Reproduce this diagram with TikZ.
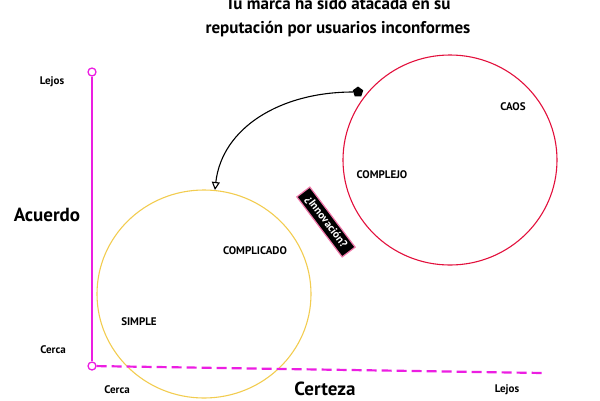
\documentclass[tikz,border=0pt]{standalone}
\usepackage{fontspec}
\setmainfont{PT Sans}
\usetikzlibrary{arrows.meta,shapes.geometric}
\definecolor{axismag}{RGB}{236,30,226}
\definecolor{caosred}{RGB}{226,16,60}
\definecolor{simpyel}{RGB}{242,204,80}
\definecolor{tagpink}{RGB}{240,120,170}
\tikzset{
  lbl/.style={font=\bfseries\fontsize{11}{13}\selectfont, inner sep=0pt},
  biglbl/.style={font=\bfseries\fontsize{19}{22}\selectfont, inner sep=0pt},
  domlbl/.style={font=\bfseries\fontsize{11}{13}\selectfont, inner sep=0pt},
  titlelbl/.style={font=\bfseries\fontsize{17}{20}\selectfont, inner sep=0pt, anchor=base},
  endmark/.style={circle, draw=axismag, line width=1.3pt, fill=white, minimum size=8pt, inner sep=0pt},
  axisline/.style={draw=axismag, line width=1.6pt},
  domcircle/.style={ellipse, line width=1.1pt, inner sep=0pt},
  tagbox/.style={fill=black, draw=tagpink, line width=1.2pt, text=white, font=\bfseries\fontsize{11}{13}\selectfont, inner xsep=7pt, inner ysep=3pt, rotate=-53},
}
\begin{document}
\begin{tikzpicture}[x=1pt,y=-1pt]
\useasboundingbox (0,0) rectangle (600,400);
% title
\node[titlelbl] (t1) at (338,9) {Tu marca ha sido atacada en su};
\node[titlelbl] (t2) at (338,33) {reputación por usuarios inconformes};
% domains
\node[domcircle, draw=simpyel, minimum width=214pt, minimum height=208pt] (yellow) at (204,294) {};
\node[domcircle, draw=caosred, minimum width=214pt, minimum height=210pt] (red) at (450,160) {};
% axes
\node[endmark] (top) at (92,72) {};
\node[endmark] (origin) at (92,366) {};
\coordinate (xend) at (543,373);
\draw[axisline] (top) -- (origin);
\draw[axisline, dash pattern=on 10pt off 5pt, line width=2.2pt] (origin) -- (xend);
% axis labels
\node[lbl] (lejosv) at (52,82) {Lejos};
\node[biglbl] (acuerdo) at (47,215) {Acuerdo};
\node[lbl] (cercav) at (53,350) {Cerca};
\node[lbl] (cercah) at (117,390) {Cerca};
\node[biglbl] (certeza) at (325,389) {Certeza};
\node[lbl] (lejosh) at (507,390) {Lejos};
% domain labels
\node[domlbl] (caos) at (513,107) {CAOS};
\node[domlbl] (complejo) at (382,175) {COMPLEJO};
\node[domlbl] (complicado) at (255,251) {COMPLICADO};
\node[domlbl] (simple) at (139,322) {SIMPLE};
% innovation tag
\node[tagbox] (innov) at (326,222) {¿Innovación?};
% arrow
\node[regular polygon, regular polygon sides=5, fill=black, minimum size=11pt, inner sep=0pt] (dot) at (358,92) {};
\draw[line width=1.1pt, -{Triangle[open, length=8pt, width=8pt]}] (dot) .. controls (280,92) and (222,128) .. (yellow.84);
\end{tikzpicture}
\end{document}
